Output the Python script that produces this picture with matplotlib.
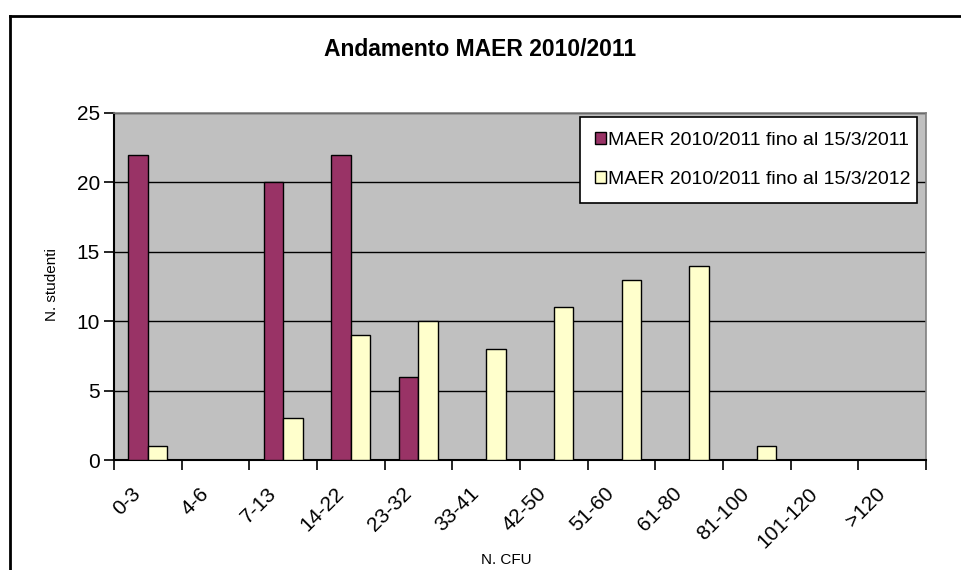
import numpy as np
import matplotlib
matplotlib.use("Agg")
import matplotlib.pyplot as plt
from matplotlib.transforms import ScaledTranslation
from matplotlib.lines import Line2D

plt.rcParams['font.family'] = ['Liberation Sans', 'DejaVu Sans']

# dati
categorie = ['0-3', '4-6', '7-13', '14-22', '23-32', '33-41', '42-50',
             '51-60', '61-80', '81-100', '101-120', '>120']
studenti_2011 = [22, 0, 20, 22, 6, 0, 0, 0, 0, 0, 0, 0]
studenti_2012 = [1, 0, 3, 9, 10, 8, 11, 13, 14, 1, 0, 0]
etichette_serie = ['MAER 2010/2011 fino al 15/3/2011',
                   'MAER 2010/2011 fino al 15/3/2012']
titolo = 'Andamento MAER 2010/2011'

W, H = 961, 570
fig = plt.figure(figsize=(W / 100, H / 100), dpi=100)
ax = fig.add_axes([114 / W, 1 - 460 / H, 812 / W, 347 / H])
ax.set_facecolor('#C0C0C0')

x = np.arange(len(categorie))
w = 0.29
ax.bar(x - w / 2, studenti_2011, width=w, color='#993366', edgecolor='black',
       linewidth=1, label=etichette_serie[0], zorder=3)
ax.bar(x + w / 2, studenti_2012, width=w, color='#FFFFCC', edgecolor='black',
       linewidth=1, label=etichette_serie[1], zorder=3)

ax.set_xlim(-0.5, len(categorie) - 0.5)
ax.set_ylim(0, 25)
ax.set_yticks([0, 5, 10, 15, 20, 25])
ax.yaxis.grid(True, color='black', linewidth=1, zorder=1)
ax.set_axisbelow(True)

# tick ai confini delle categorie, etichette al centro
ax.set_xticks(np.arange(len(categorie) + 1) - 0.5, minor=True)
ax.set_xticks(x)
ax.set_xticklabels(categorie, rotation=45, ha='right', va='center',
                   rotation_mode='anchor', fontsize=15)
ax.tick_params(axis='x', which='major', length=0, pad=22)
ax.tick_params(axis='x', which='minor', length=7, width=1.2, direction='out')
ax.tick_params(axis='y', length=7, width=1.2, direction='out', labelsize=15, pad=3)
off = ScaledTranslation(-10 / 100, 0, fig.dpi_scale_trans)
for lab in ax.get_xticklabels():
    lab.set_transform(lab.get_transform() + off)

for s in ['top', 'right']:
    ax.spines[s].set_color('#808080')
    ax.spines[s].set_linewidth(1.2)
for s in ['left', 'bottom']:
    ax.spines[s].set_color('black')
    ax.spines[s].set_linewidth(1.5)

fig.text(52 / W, 1 - 285 / H, 'N. studenti', fontsize=11, rotation=90,
         ha='center', va='center')
fig.text(506 / W, 1 - 560 / H, 'N. CFU', fontsize=11, ha='center', va='center')
fig.text(0.5, 1 - 49 / H, titolo, fontsize=16.5, fontweight='bold',
         ha='center', va='center')

leg = ax.legend(loc='upper left', bbox_to_anchor=(0.574, 0.726, 0.415, 0.262),
                mode='expand', fontsize=14, frameon=True, fancybox=False,
                edgecolor='black', facecolor='white', framealpha=1,
                handlelength=0.6, handleheight=0.6, handletextpad=0.1,
                labelspacing=1.15, borderpad=0.75, borderaxespad=0)
leg.get_frame().set_linewidth(1.2)

# cornice del grafico
fig.add_artist(Line2D([10 / W, 1], [1 - 16 / H, 1 - 16 / H], color='black', linewidth=2))
fig.add_artist(Line2D([10 / W, 10 / W], [0, 1 - 16 / H], color='black', linewidth=2))

fig.savefig('out.png', dpi=100)
